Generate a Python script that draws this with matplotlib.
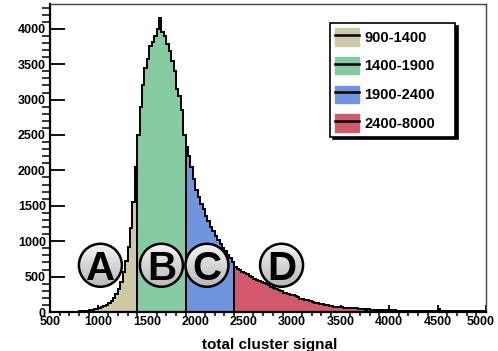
import numpy as np
import matplotlib
matplotlib.use("Agg")
import matplotlib.pyplot as plt
from matplotlib.patches import Patch, Circle
from matplotlib.lines import Line2D
import matplotlib.transforms as mtransforms

plt.rcParams['font.family'] = ['Liberation Sans', 'DejaVu Sans']
plt.rcParams['font.weight'] = 'bold'

# 25-wide bins, counts per bin
bin_width = 25
x_start = 500

counts_low = [0, 0, 0, 0, 0, 0, 0, 0, 0, 0, 5, 5, 10, 10, 15, 20]  # 500-900, not filled
counts_a = [30, 35, 40, 45, 55, 65, 80, 100, 130, 160, 200, 260, 330, 430, 560,
            720, 920, 1180, 1550, 2050]                                   # 900-1400
counts_b = [2500, 2900, 3200, 3450, 3580, 3750, 3820, 3900, 4000, 4150, 3950,
            3900, 3780, 3680, 3550, 3400, 3150, 3050, 2850, 2500]         # 1400-1900
counts_c = [2330, 2200, 2050, 1880, 1720, 1620, 1530, 1450, 1360, 1280, 1200,
            1140, 1080, 1010, 960, 900, 860, 810, 760, 710]               # 1900-2400
counts_d = [640, 610, 590, 570, 555, 540, 510, 495, 470, 455, 440, 420, 405, 390,
            375, 360, 345, 330, 310, 290, 275, 265, 255, 245, 240, 225, 210, 190,
            180, 170, 165, 155, 140, 130, 125, 120, 115, 105, 95, 90, 85, 75, 70,
            70, 65, 60, 60, 55, 55, 50, 55, 45, 45, 40, 35, 40, 35, 30, 35, 30,
            30, 25, 30, 25, 25, 20, 25, 20, 20, 15, 20, 15, 15, 15, 15, 10, 15,
            10, 10, 15, 10, 10, 15, 10, 40, 10, 10, 15, 10, 10, 15, 10, 10, 15,
            10, 10, 15, 10, 10, 15, 10, 10, 15, 10]                       # 2400-5000

ranges = ['900-1400', '1400-1900', '1900-2400', '2400-8000']
colors = ['#cdc9a5', '#84cba1', '#7095dc', '#d2586b']
labels = ['A', 'B', 'C', 'D']
label_x = [1020, 1650, 2120, 2890]
label_y = 660

fig = plt.figure(figsize=(4.98, 3.51), dpi=100)
ax = fig.add_axes([0.1004, 0.1111, 0.8755, 0.8775])

segments = [counts_low, counts_a, counts_b, counts_c, counts_d]
start = x_start
for i, seg in enumerate(segments):
    edges = start + bin_width * np.arange(len(seg) + 1)
    if i > 0:
        ax.stairs(seg, edges, fill=True, color=colors[i - 1], zorder=2)
        ax.stairs(seg, edges, baseline=0, color='black', lw=1.4, zorder=3)
    else:
        ax.stairs(seg, edges, baseline=None, color='black', lw=1.4, zorder=3)
    start = edges[-1]

ax.set_xlim(500, 5000)
ax.set_ylim(0, 4350)
ax.set_xticks(np.arange(500, 5001, 500))
ax.set_xticks(np.arange(500, 5001, 100), minor=True)
ax.set_yticks(np.arange(0, 4001, 500))
ax.set_yticks(np.arange(0, 4301, 100), minor=True)
ax.tick_params(axis='both', direction='in', labelsize=9, colors='black', width=1.3)
ax.tick_params(axis='x', which='major', length=5, pad=3)
ax.tick_params(axis='x', which='minor', length=3, width=1.1)
ax.tick_params(axis='y', which='major', length=11, pad=3)
ax.tick_params(axis='y', which='minor', length=5.5, width=1.1)
for lbl in ax.get_xticklabels() + ax.get_yticklabels():
    lbl.set_fontweight('bold')
# keep the last x label inside the canvas
last = ax.get_xticklabels()[-1]
last.set_transform(last.get_transform() +
                   mtransforms.ScaledTranslation(-4 / 72, 0, fig.dpi_scale_trans))

for side in ['left', 'bottom']:
    ax.spines[side].set_linewidth(1.6)
for side in ['top', 'right']:
    ax.spines[side].set_linewidth(1.0)
    ax.spines[side].set_color('#444444')

ax.set_xlabel('total cluster signal', fontsize=11, fontweight='bold', ha='right')
ax.xaxis.set_label_coords(0.66, -0.085)

handles = [(Patch(facecolor=c, edgecolor=c), Line2D([], [], color='black', lw=1.8))
           for c in colors]
leg = ax.legend(handles, ranges, loc='upper left',
                bbox_to_anchor=(0.642, 0.565, 0.287, 0.373), mode='expand',
                borderaxespad=0, fancybox=False, shadow={'color': 'black', 'alpha': 1},
                edgecolor='black', framealpha=1, fontsize=10.5, handlelength=1.65,
                handleheight=1.45, labelspacing=0.78, handletextpad=0.35,
                borderpad=0.35)
leg.get_frame().set_linewidth(1.2)
for t in leg.get_texts():
    t.set_fontweight('bold')

# circled letters with a light-to-grey vertical gradient
radius_in = 0.215
grad = np.linspace(0.95, 0.72, 64).reshape(-1, 1)
fig.canvas.draw()
px_per_in = fig.dpi
for lab, xc in zip(labels, label_x):
    offset = mtransforms.ScaledTranslation(xc, label_y, ax.transData)
    circ = Circle((0, 0), radius_in, transform=fig.dpi_scale_trans + offset,
                  facecolor='none', edgecolor='black', lw=1.8, zorder=6)
    cx, cy = ax.transData.transform((xc, label_y))
    r_px = radius_in * px_per_in
    x0, y0 = ax.transData.inverted().transform((cx - r_px, cy - r_px))
    x1, y1 = ax.transData.inverted().transform((cx + r_px, cy + r_px))
    im = ax.imshow(grad, cmap='gray', vmin=0, vmax=1, extent=(x0, x1, y0, y1),
                   origin='upper', aspect='auto', zorder=5, interpolation='bilinear')
    fill = Circle((0, 0), radius_in, transform=fig.dpi_scale_trans + offset,
                  facecolor='none', edgecolor='none')
    ax.add_patch(fill)
    im.set_clip_path(fill)
    ax.add_patch(circ)
    ax.text(xc, label_y, lab, ha='center', va='center_baseline', fontsize=29,
            fontweight='bold', color='black', zorder=7)

ax.set_xlim(500, 5000)
ax.set_ylim(0, 4350)

fig.savefig('out.png', dpi=100)
